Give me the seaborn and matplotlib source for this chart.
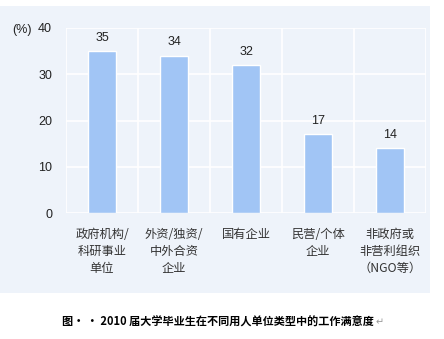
import matplotlib
matplotlib.use("Agg")
import matplotlib.pyplot as plt
import seaborn as sns
import pandas as pd
from matplotlib.patches import Rectangle

categories = ["政府机构/\n科研事业\n单位", "外资/独资/\n中外合资\n企业", "国有企业",
              "民营/个体\n企业", "非政府或\n非营利组织\n（NGO等）"]
values = [35, 34, 32, 17, 14]
yticks = [0, 10, 20, 30, 40]
caption = "图· · 2010 届大学毕业生在不同用人单位类型中的工作满意度"

sns.set_theme(style="white")
plt.rcParams['font.family'] = ['Noto Sans CJK SC', 'DejaVu Sans']

panel = "#eef3fa"
bar_color = "#a1c5f5"
num_font = ["Liberation Sans", "DejaVu Sans"]

fig = plt.figure(figsize=(4.44, 3.39), dpi=100)
fig.patch.set_facecolor("white")
fig.add_artist(Rectangle((0, 1 - 293/339), 430/444, (293 - 6)/339,
                         transform=fig.transFigure, facecolor=panel, edgecolor="none", zorder=0))

ax = fig.add_axes([66/444, 1 - 213/339, 360/444, 185/339])
ax.set_facecolor(panel)
df = pd.DataFrame({"cat": categories, "val": values})
sns.barplot(data=df, x="cat", y="val", color=bar_color, width=0.39, saturation=1,
            ax=ax, zorder=3)
ax.set_ylim(0, 40)
ax.set_xlim(-0.5, 4.5)
ax.set_yticks(yticks)
ax.set_yticklabels([str(t) for t in yticks], fontsize=9, color="#222222", family=num_font)
ax.set_xticks(range(5))
ax.set_xticklabels(categories, fontsize=8.8, color="#333333", linespacing=1.4)
ax.set_xticks([i - 0.5 for i in range(6)], minor=True)
ax.tick_params(axis="both", which="both", length=0)
ax.tick_params(axis="y", pad=10)
ax.tick_params(axis="x", pad=11)
ax.set_xlabel("")
ax.set_ylabel("")
ax.grid(axis="y", which="major", color="white", linewidth=1.2, zorder=1)
ax.grid(axis="x", which="minor", color="white", linewidth=1.2, zorder=1)
ax.set_axisbelow(True)
for s in ax.spines.values():
    s.set_visible(False)

for i, v in enumerate(values):
    ax.text(i, v + 1.6, str(v), ha="center", va="bottom", fontsize=9,
            color="#222222", family=num_font)

fig.text(12/444, 1 - 30/339, "(%)", fontsize=9, color="#222222", va="center", ha="left",
         family=num_font)

fig.text(0.5 - 4/444, 1 - 322/339, caption, fontsize=8, fontweight="bold", color="black",
         ha="center", va="center")
fig.text(380/444, 1 - 322/339, "↵", fontsize=7, color="#999999",
         ha="center", va="center", family=["DejaVu Sans"])

fig.savefig("out.png", dpi=100, facecolor="white")
